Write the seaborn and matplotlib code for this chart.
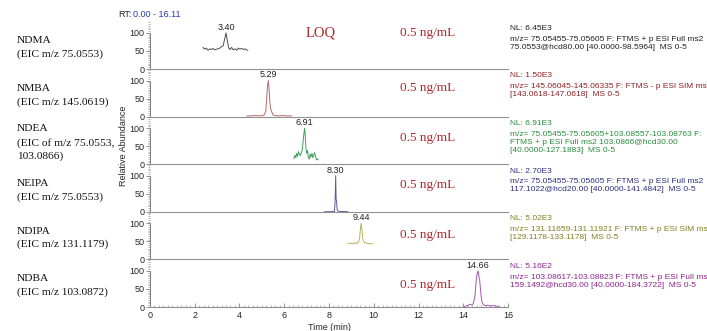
import numpy as np
import pandas as pd
import matplotlib
matplotlib.use("Agg")
import matplotlib.pyplot as plt
import matplotlib.transforms as mtransforms
from matplotlib.ticker import MultipleLocator
import seaborn as sns

# compounds and their EIC labels
names = ['NDMA\n(EIC m/z 75.0553)',
         'NMBA\n(EIC m/z 145.0619)',
         'NDEA\n(EIC of m/z 75.0553,\n103.0866)',
         'NEIPA\n(EIC m/z 75.0553)',
         'NDIPA\n(EIC m/z 131.1179)',
         'NDBA\n(EIC m/z 103.0872)']
peak_labels = ['3.40', '5.29', '6.91', '8.30', '9.44', '14.66']
peak_rt = [3.40, 5.29, 6.91, 8.30, 9.44, 14.66]
nl_labels = ['NL: 6.45E3', 'NL: 1.50E3', 'NL: 6.91E3', 'NL: 2.70E3', 'NL: 5.02E3', 'NL: 5.16E2']
scan_info = ['m/z= 75.05455-75.05605 F: FTMS + p ESI Full ms2\n75.0553@hcd80.00 [40.0000-98.5964]  MS 0-5',
             'm/z= 145.06045-145.06335 F: FTMS - p ESI SIM ms\n[143.0618-147.0618]  MS 0-5',
             'm/z= 75.05455-75.05605+103.08557-103.08763 F:\nFTMS + p ESI Full ms2 103.0866@hcd30.00\n[40.0000-127.1883]  MS 0-5',
             'm/z= 75.05455-75.05605 F: FTMS + p ESI Full ms2\n117.1022@hcd20.00 [40.0000-141.4842]  MS 0-5',
             'm/z= 131.11659-131.11921 F: FTMS + p ESI SIM ms\n[129.1178-133.1178]  MS 0-5',
             'm/z= 103.08617-103.08823 F: FTMS + p ESI Full ms2\n159.1492@hcd30.00 [40.0000-184.3722]  MS 0-5']
conc_label = '0.5 ng/mL'

# traces (time in min, relative abundance)
ndma_t = [2.37, 2.45, 2.52, 2.6, 2.68, 2.75, 2.82, 2.9, 2.97, 3.05, 3.12, 3.2, 3.27, 3.33, 3.40,
          3.46, 3.52, 3.58, 3.65, 3.72, 3.8, 3.88, 3.95, 4.02, 4.1, 4.18, 4.25, 4.32, 4.38]
ndma_y = [60, 55, 58, 52, 56, 54, 57, 53, 55, 56, 58, 62, 64, 80, 100,
          78, 58, 54, 60, 53, 56, 52, 58, 55, 57, 54, 56, 53, 52]
nmba_t = [4.33, 4.5, 4.7, 4.9, 5.0, 5.1, 5.18, 5.22, 5.26, 5.29, 5.32, 5.36, 5.4, 5.45, 5.5,
          5.6, 5.75, 5.9, 6.1, 6.34]
nmba_y = [2, 2, 3, 2, 3, 4, 15, 55, 88, 100, 80, 40, 20, 12, 5, 3, 2, 3, 2, 2]
ndea_t = [6.43, 6.48, 6.52, 6.56, 6.6, 6.64, 6.68, 6.72, 6.76, 6.8, 6.84, 6.88, 6.91, 6.94, 6.97,
          7.0, 7.04, 7.08, 7.12, 7.16, 7.2, 7.24, 7.28, 7.32, 7.36, 7.4, 7.44, 7.48, 7.52]
ndea_y = [15, 25, 18, 30, 22, 35, 28, 24, 30, 38, 60, 85, 100, 80, 45,
          30, 38, 20, 14, 28, 20, 30, 18, 25, 32, 22, 12, 15, 12]
neipa_t = [7.8, 8.0, 8.15, 8.24, 8.27, 8.30, 8.32, 8.34, 8.36, 8.40, 8.5, 8.65, 8.84]
neipa_y = [0, 0.5, 0.5, 1, 20, 100, 35, 30, 8, 2, 1, 0.5, 0.5]
ndipa_t = [8.84, 8.95, 9.05, 9.15, 9.25, 9.32, 9.37, 9.41, 9.44, 9.47, 9.51, 9.56, 9.62, 9.7,
           9.8, 9.9, 9.96]
ndipa_y = [44, 45, 43, 46, 45, 48, 60, 88, 100, 82, 58, 48, 46, 45, 44, 43, 43]
ndba_t = [14.0, 14.1, 14.2, 14.3, 14.38, 14.45, 14.52, 14.58, 14.62, 14.66, 14.7, 14.74, 14.78,
          14.83, 14.9, 15.0, 15.1, 15.2, 15.3, 15.4, 15.5, 15.6]
ndba_y = [1, 2, 4, 8, 5, 10, 30, 75, 92, 100, 85, 70, 40, 15, 6, 4, 5, 3, 4, 3, 2, 2]

traces = [(ndma_t, ndma_y), (nmba_t, nmba_y), (ndea_t, ndea_y),
          (neipa_t, neipa_y), (ndipa_t, ndipa_y), (ndba_t, ndba_y)]
line_colors = ['#505050', '#b86a6a', '#3f9f5f', '#5c5ca0', '#b4b455', '#a855b4']
text_colors = ['#222222', '#8e2323', '#2a8c3c', '#2e2e82', '#7f7f22', '#8f248f']

sns.set_style("ticks")
plt.rcParams['font.family'] = ['Liberation Sans', 'DejaVu Sans']
red = '#b0282d'
serif = ['Liberation Serif', 'DejaVu Serif']

fig, axes = plt.subplots(6, 1, figsize=(7.07, 3.31), dpi=100)
fig.subplots_adjust(left=0.212, right=0.7186, bottom=0.0725, top=0.0725 + 6 * 0.1438, hspace=0)

ng_y = [100, 80, 72, 75, 67, 61]
for i, ax in enumerate(axes):
    t, y = traces[i]
    ax.patch.set_visible(False)
    df = pd.DataFrame({'t': t, 'y': y})
    sns.lineplot(data=df, x='t', y='y', ax=ax, color=line_colors[i], linewidth=0.7,
                 estimator=None, sort=False)
    ax.set_xlim(0, 16)
    ax.set_ylim(0, 132)
    ax.set_xlabel('')
    ax.set_ylabel('')
    for s in ['top', 'right']:
        ax.spines[s].set_visible(False)
    ax.spines['left'].set_bounds(0, 100)
    ax.spines['left'].set_color('#808080')
    ax.spines['bottom'].set_color('#909090')
    ax.spines['left'].set_linewidth(0.7)
    ax.spines['bottom'].set_linewidth(0.8)
    ax.set_yticks([0, 50, 100])
    ax.yaxis.set_minor_locator(MultipleLocator(5))
    ax.tick_params(axis='y', which='major', labelsize=6.5, length=3, width=0.6,
                   color='#808080', pad=1)
    ax.tick_params(axis='y', which='minor', length=1.5, width=0.4, color='#808080')

    ax.text(peak_rt[i], 103, peak_labels[i], ha='center', va='bottom', fontsize=6.5,
            color='#222222')
    ax.text(12.4, ng_y[i], conc_label, ha='center', va='center', fontsize=9.5,
            color=red, family=serif)
    ax.text(1.005, 0.93, nl_labels[i], transform=ax.transAxes, ha='left', va='top',
            fontsize=6, color=text_colors[i])
    ax.text(1.005, 0.70, scan_info[i], transform=ax.transAxes, ha='left', va='top',
            fontsize=6, color=text_colors[i], linespacing=1.2)
    trans = mtransforms.blended_transform_factory(fig.transFigure, ax.transAxes)
    ax.text(0.024, 0.45, names[i], transform=trans, ha='left', va='center', fontsize=8.2,
            family=serif, linespacing=1.55, color='#111111')

    if i < 5:
        ax.set_xticks([])
    else:
        ax.set_xticks(np.arange(0, 17, 2))
        ax.xaxis.set_minor_locator(MultipleLocator(0.2))
        ax.tick_params(axis='x', which='major', direction='in', labelsize=6.5, length=3,
                       width=0.6, color='#808080', pad=3)
        ax.tick_params(axis='x', which='minor', direction='in', length=1.5, width=0.4,
                       color='#808080')

axes[0].text(7.63, 100, 'LOQ', ha='center', va='center', fontsize=10.5, color=red,
             family=serif)

fig.text(0.167, 0.955, 'RT:', fontsize=6.5, ha='left', va='center', color='#222222')
fig.text(0.188, 0.955, '0.00 - 16.11', fontsize=6.5, ha='left', va='center', color='#2a3aa8')
fig.text(0.175, 0.56, 'Relative Abundance', rotation=90, fontsize=6.5, ha='center', va='center')
fig.text(0.466, 0.012, 'Time (min)', fontsize=6.5, ha='center', va='center')

fig.savefig('out.png', dpi=100)
